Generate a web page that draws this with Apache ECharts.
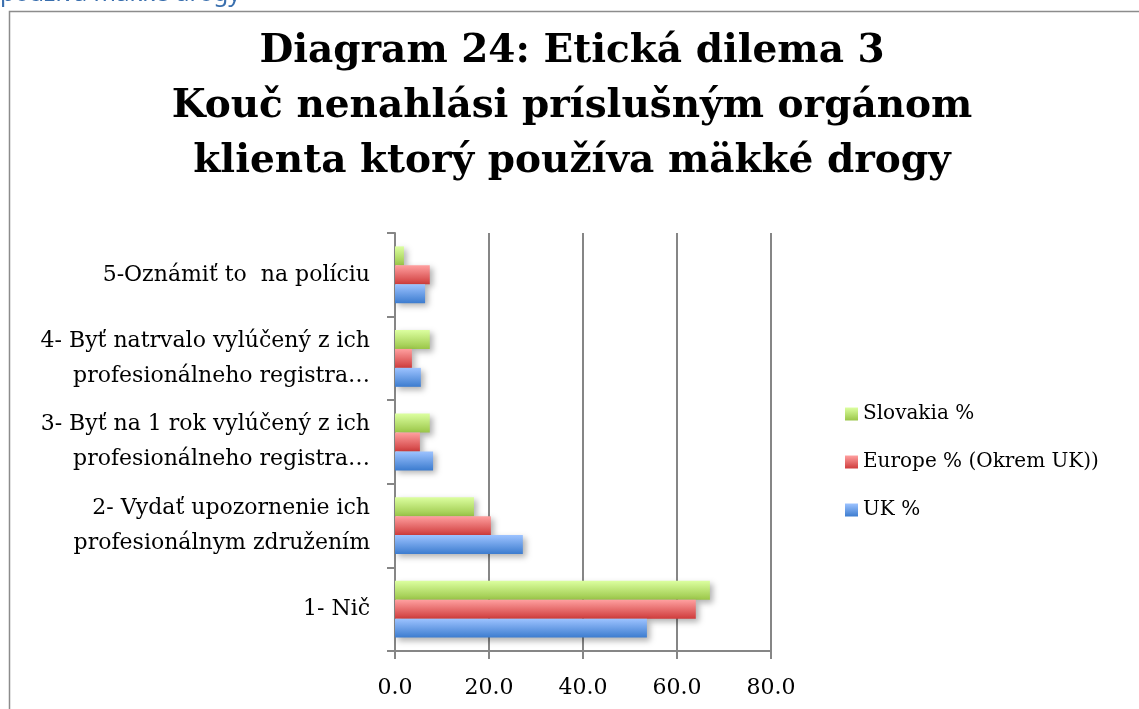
<!DOCTYPE html>
<html>
<head>
<meta charset="utf-8">
<script src="https://cdn.jsdelivr.net/npm/echarts@6/dist/echarts.min.js"></script>
<style>
  html, body { margin: 0; padding: 0; background: #fff; }
  #chart { width: 1139px; height: 709px; }
</style>
</head>
<body>
<div id="chart"></div>
<script>
// kategórie zdola nahor (os Y)
const categories = [
  '1- Nič',
  '2- Vydať upozornenie ich\nprofesionálnym združením',
  '3- Byť na 1 rok vylúčený z ich\nprofesionálneho registra…',
  '4- Byť natrvalo vylúčený z ich\nprofesionálneho registra…',
  '5-Oznámiť to  na políciu'
]
const seriesNames = ['Slovakia %', 'Europe % (Okrem UK))', 'UK %']
const slovakiaValues = [67.0, 16.8, 7.4, 7.4, 1.9]
const europeValues = [64.0, 20.4, 5.3, 3.6, 7.4]
const ukValues = [53.6, 27.2, 8.1, 5.5, 6.4]
const xTicks = [0, 20, 40, 60, 80]

const serif = 'DejaVu Serif'

// prechod farby zhora nadol ako v Exceli
const grad = (top, bottom) => new echarts.graphic.LinearGradient(0, 0, 0, 1, [
  { offset: 0, color: top },
  { offset: 1, color: bottom }
])

const barStyle = (top, bottom) => ({
  color: grad(top, bottom),
  shadowColor: 'rgba(0,0,0,0.3)',
  shadowBlur: 6,
  shadowOffsetX: 3,
  shadowOffsetY: 3
})

const chart = echarts.init(document.getElementById('chart'))

chart.setOption({
  animation: false,
  title: {
    text: 'Diagram 24: Etická dilema 3\nKouč nenahlási príslušným orgánom\nklienta ktorý používa mäkké drogy',
    left: 567,
    textAlign: 'center',
    top: 19,
    textStyle: {
      fontFamily: serif,
      fontWeight: 'bold',
      fontSize: 39,
      lineHeight: 55,
      color: '#000'
    }
  },
  graphic: [
    {
      type: 'rect',
      shape: { x: 9.5, y: 11.5, width: 1140, height: 710 },
      style: { fill: 'none', stroke: '#8c8c8c', lineWidth: 1.5 },
      silent: true
    },
    {
      type: 'text',
      x: 0,
      y: 6,
      style: {
        text: 'používa mäkké drogy',
        font: '24px "Noto Sans"',
        fill: '#3a6fae',
        verticalAlign: 'bottom'
      },
      silent: true
    }
  ],
  legend: {
    orient: 'vertical',
    left: 840,
    top: 399,
    itemWidth: 13,
    itemHeight: 13,
    itemGap: 28,
    icon: 'rect',
    data: seriesNames,
    itemStyle: { shadowBlur: 0, shadowOffsetX: 0, shadowOffsetY: 0 },
    textStyle: { fontFamily: serif, fontSize: 20, color: '#000' }
  },
  grid: {
    left: 395,
    right: 368,
    top: 233,
    bottom: 58
  },
  xAxis: {
    type: 'value',
    min: 0,
    max: xTicks[xTicks.length - 1],
    interval: 20,
    axisLine: { show: true, lineStyle: { color: '#868686', width: 2 } },
    axisTick: { show: true, length: 8, lineStyle: { color: '#868686', width: 2 } },
    splitLine: { show: true, lineStyle: { color: '#868686', width: 2 } },
    axisLabel: {
      margin: 26,
      fontFamily: serif,
      fontSize: 22,
      color: '#000',
      formatter: (v) => v.toFixed(1)
    }
  },
  yAxis: {
    type: 'category',
    data: categories,
    axisLine: { show: true, lineStyle: { color: '#868686', width: 2 } },
    axisTick: { show: true, length: 8, lineStyle: { color: '#868686', width: 2 } },
    axisLabel: {
      margin: 25,
      fontFamily: serif,
      fontSize: 22,
      lineHeight: 35,
      color: '#000',
      align: 'right'
    }
  },
  series: [
    {
      name: seriesNames[0],
      type: 'bar',
      data: slovakiaValues,
      barGap: '0%',
      barCategoryGap: '32%',
      itemStyle: barStyle('#dcffa0', '#9ac648')
    },
    {
      name: seriesNames[1],
      type: 'bar',
      data: europeValues,
      barGap: '0%',
      barCategoryGap: '32%',
      itemStyle: barStyle('#ffa0a0', '#cf3c3c')
    },
    {
      name: seriesNames[2],
      type: 'bar',
      data: ukValues,
      barGap: '0%',
      barCategoryGap: '32%',
      itemStyle: barStyle('#9dc3ff', '#3c7ccf')
    }
  ]
})
</script>
</body>
</html>
